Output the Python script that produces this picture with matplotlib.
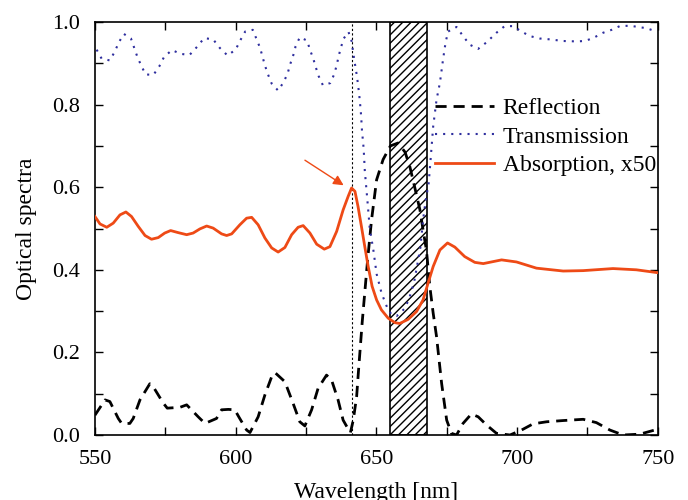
import numpy as np
import matplotlib.pyplot as plt
from matplotlib.patches import Rectangle

# values
refl_wl = [550, 553.6, 555.3, 558.3, 559.5, 562.4, 563.6, 566, 569.5, 570.7, 574.3, 575.7, 580.2,
           582.6, 586.7, 589.1, 593.2, 595, 597.4, 599.7, 601.2, 603.9, 605.1, 608, 610.4, 612.8,
           614, 617.5, 620.4, 622.8, 624.6, 627, 629.3, 632.3, 634.1, 636.4, 638.2, 640.2, 640.8,
           641.8, 643, 643.6, 645, 646.9, 648.3, 650.1, 652.4, 655, 657.7, 660.2, 661.9, 663.7,
           665.5, 666.6, 667.8, 669, 670.2, 671.4, 673.2, 675, 676.7, 678.5, 680.8, 683.8, 686.2,
           689.2, 692.7, 697.5, 701.6, 705.7, 710.5, 716.4, 723.5, 728.2, 733, 737.7, 743.6, 750]
refl = [0.048, 0.085, 0.081, 0.040, 0.028, 0.028, 0.040, 0.085, 0.124, 0.117, 0.077, 0.065, 0.067,
        0.073, 0.044, 0.028, 0.040, 0.061, 0.062, 0.061, 0.043, 0.012, 0.006, 0.044, 0.097, 0.141,
        0.151, 0.129, 0.077, 0.032, 0.022, 0.061, 0.113, 0.145, 0.133, 0.085, 0.036, 0.012, 0.006,
        0.036, 0.093, 0.150, 0.275, 0.424, 0.521, 0.618, 0.667, 0.700, 0.707, 0.685, 0.650, 0.598,
        0.545, 0.497, 0.448, 0.360, 0.295, 0.238, 0.125, 0.036, 0.004, 0.0, 0.028, 0.051, 0.044,
        0.024, 0.004, 0.0, 0.012, 0.027, 0.032, 0.035, 0.038, 0.030, 0.012, 0.0, 0.002, 0.014]

trans_wl = [550.6, 552.4, 555.3, 557.1, 558.5, 560.3, 562.8, 565, 566.4, 568, 570.8, 572.9, 574.6,
            577.4, 580.4, 583.6, 586.3, 588.8, 592, 594.4, 597.1, 600, 601.6, 603.4, 606.1, 608.7,
            610.4, 611.5, 612.8, 615.1, 617.1, 618.5, 619.4, 620.5, 621.3, 622.8, 625.4, 626.4,
            627.6, 628.5, 629.5, 631, 633.6, 635, 635.9, 636.6, 637.4, 638.4, 640.1, 641.2, 642.1,
            642.6, 643.1, 643.5, 643.9, 644.2, 644.5, 644.7, 644.9, 645.2, 645.5, 645.9, 646.9,
            647.7, 648.9, 650.1, 651.8, 653, 654.2, 655.4, 657.2, 659.9, 661.5, 663.4, 664.6,
            665.7, 666.6, 667.5, 668.6, 669.2, 670.2, 671.4, 672.6, 673.7,
            674.6, 675.5, 678.5, 680.8, 683.2, 686.2, 689.2, 692.7, 695.6, 698.6, 701.6, 704.5,
            708.1, 711.6, 716.4, 721.1, 724.1, 727, 730.6, 733.6, 736.5, 740.1, 743, 746, 749.5]
trans = [0.933, 0.911, 0.907, 0.929, 0.951, 0.971, 0.960, 0.917, 0.895, 0.873, 0.872, 0.893, 0.916,
         0.932, 0.923, 0.920, 0.940, 0.961, 0.958, 0.937, 0.919, 0.933, 0.955, 0.977, 0.981, 0.937,
         0.895, 0.873, 0.851, 0.834, 0.855, 0.876, 0.898, 0.920, 0.941, 0.963, 0.955, 0.933,
         0.911, 0.890, 0.869, 0.847, 0.852, 0.873, 0.895, 0.917, 0.938, 0.960, 0.976, 0.954, 0.911,
         0.890, 0.869, 0.848, 0.825, 0.804, 0.781, 0.760, 0.737, 0.715, 0.693, 0.640, 0.562,
         0.497, 0.450, 0.390, 0.345, 0.323, 0.303, 0.292, 0.288, 0.305, 0.327, 0.369, 0.414,
         0.456, 0.521, 0.566, 0.610, 0.660, 0.747, 0.812, 0.853, 0.909,
         0.950, 0.977, 0.988, 0.966, 0.945, 0.935, 0.951, 0.974, 0.990, 0.990, 0.977, 0.966,
         0.960, 0.958, 0.954, 0.953, 0.954, 0.961, 0.974, 0.981, 0.990, 0.991, 0.988, 0.985, 0.977]

abs_wl = [550, 551.8, 554.2, 556.5, 558.9, 561, 563, 565.4, 567.8, 570.1, 572.5, 574.8, 576.9,
          579.6, 582.6, 584.9, 587.3, 589.7, 592, 595, 596.8, 598.6, 601.5, 603.9, 605.7, 608,
          610.4, 612.8, 615.1, 617.5, 619.9, 622.2, 624, 626.4, 628.8, 631.5, 633.5, 635.9, 638.2,
          640, 641.2, 642.4, 643.5, 644.7, 645.9, 647.1, 648.5, 650.1, 651.8, 654.2, 656.6, 658.3,
          661.3, 664.3, 666.6, 668.4, 670.2, 672.6, 675.3, 677.9, 681.4, 685, 688, 694.5, 699.8,
          706.9, 716.4, 723.5, 734.1, 742.4, 750]
absorb = [0.529, 0.511, 0.503, 0.513, 0.533, 0.540, 0.529, 0.505, 0.483, 0.474, 0.478, 0.489, 0.495,
          0.490, 0.485, 0.489, 0.499, 0.506, 0.501, 0.487, 0.483, 0.487, 0.509, 0.525, 0.527, 0.509,
          0.477, 0.453, 0.443, 0.454, 0.485, 0.503, 0.507, 0.489, 0.462, 0.450, 0.456, 0.493, 0.545,
          0.578, 0.598, 0.590, 0.553, 0.505, 0.456, 0.408, 0.360, 0.327, 0.303, 0.283, 0.272, 0.270,
          0.280, 0.299, 0.327, 0.368, 0.408, 0.448, 0.465, 0.455, 0.432, 0.418, 0.415, 0.424, 0.419,
          0.404, 0.397, 0.398, 0.403, 0.400, 0.393]

peak_wl = 641.2
peak_val = 0.598
band = (655, 668)

plt.rcParams['font.family'] = 'Liberation Serif'

fig = plt.figure(figsize=(6.88, 5), dpi=100)
ax = fig.add_axes([0.138, 0.13, 0.818, 0.826])

ax.add_patch(Rectangle((band[0], 0), band[1] - band[0], 1, facecolor='none',
                       edgecolor='black', hatch='////', lw=1.2, zorder=1))
ax.axvline(peak_wl, color='black', ls=(0, (2, 2)), lw=0.8, zorder=1)

ax.plot(refl_wl, refl, color='black', ls=(0, (4, 2.5)), lw=2, label='Reflection', zorder=3)
ax.plot(trans_wl, trans, color='#2e2e9e', ls=(0, (1, 2.9)), lw=1.5, label='Transmission', zorder=3)
ax.plot(abs_wl, absorb, color='#ee4a16', lw=2, label='Absorption, x50', zorder=4)

ax.annotate('', xy=(peak_wl - 2, peak_val + 0.003), xytext=(623.8, 0.669),
            arrowprops=dict(arrowstyle='-|>', color='#ee4a16', lw=1, mutation_scale=15))

ax.set_xlim(550, 750)
ax.set_ylim(0, 1)
ax.set_xticks([550, 600, 650, 700, 750])
ax.set_xticks([575, 625, 675, 725], minor=True)
ax.set_yticks([0.0, 0.2, 0.4, 0.6, 0.8, 1.0])
ax.set_yticks([0.1, 0.3, 0.5, 0.7, 0.9], minor=True)
ax.yaxis.set_major_formatter(plt.FormatStrFormatter('%.1f'))
ax.tick_params(which='both', direction='in', top=True, right=True, length=6, width=1,
               labelsize=16, pad=11)
for s in ax.spines.values():
    s.set_linewidth(1.2)

ax.set_xlabel('Wavelength [nm]', fontsize=17, labelpad=9)
ax.set_ylabel('Optical spectra', fontsize=17, labelpad=11)

ax.legend(loc='center left', bbox_to_anchor=(0.605, 0.722), frameon=False, fontsize=17,
          handlelength=2.5, handletextpad=0.35, labelspacing=0.3, borderpad=0, borderaxespad=0)

fig.savefig('out.png', dpi=100)
